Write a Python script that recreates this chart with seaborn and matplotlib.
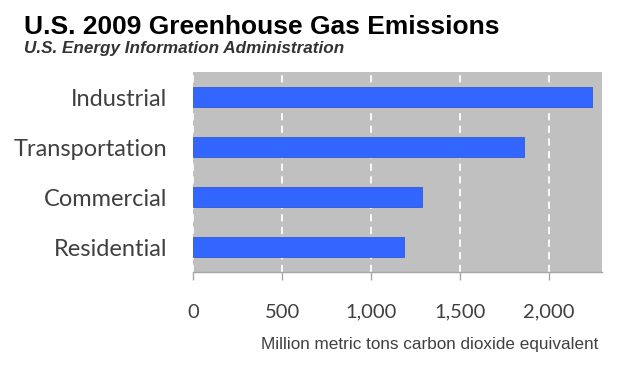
import matplotlib
matplotlib.use("Agg")
import matplotlib.pyplot as plt
from matplotlib import font_manager
import pandas as pd
import seaborn as sns

# data
sectors = ["Industrial", "Transportation", "Commercial", "Residential"]
emissions = [2242, 1862, 1288, 1187]
tick_values = [0, 500, 1000, 1500, 2000]
tick_labels = ["0", "500", "1,000", "1,500", "2,000"]

df = pd.DataFrame({"sector": sectors, "emissions": emissions})

sns.set_theme(style="white")
plt.rcParams["font.family"] = ["Lato", "DejaVu Sans"]

# narrow Arial look-alike for the axis title, if it is installed
try:
    font_manager.findfont("Liberation Sans Narrow", fallback_to_default=False)
    label_font, label_size = "Liberation Sans Narrow", 15
except Exception:
    label_font, label_size = "Liberation Sans", 12.3

fig = plt.figure(figsize=(6.4, 3.68), dpi=100)
ax = fig.add_axes([193.3 / 640, 1 - 272 / 368, 408.7 / 640, 200 / 368])
ax.set_facecolor("#C0C0C0")

sns.barplot(data=df, x="emissions", y="sector", orient="h", color="#3366FF",
            width=0.41, edgecolor="#2E59D9", linewidth=0.6, saturation=1, ax=ax)

ax.set_xlim(0, 2300)
ax.set_axisbelow(True)
ax.set_xticks(tick_values)
ax.set_xticklabels(tick_labels)
for v in tick_values:
    ax.axvline(v, color="white", linestyle=(0, (4, 3)), linewidth=1.3, zorder=0.5)

for side in ["top", "right", "left"]:
    ax.spines[side].set_visible(False)
ax.spines["bottom"].set_color("#A6A6A6")
ax.spines["bottom"].set_linewidth(1)

ax.tick_params(axis="x", bottom=True, direction="out", length=5.8, width=1,
               color="#A6A6A6", pad=17, labelsize=14.5, labelcolor="#404040")
ax.tick_params(axis="y", left=False, length=0, pad=19, labelsize=17,
               labelcolor="#404040")
ax.set_ylabel("")

ax.set_xlabel("Million metric tons carbon dioxide equivalent", loc="right",
              fontsize=label_size, family=label_font, color="#404040", va="center")
ax.xaxis.set_label_coords(404.7 / 408.7, -72 / 200)

fig.text(24 / 640, 1 - 34 / 368, "U.S. 2009 Greenhouse Gas Emissions",
         family="Liberation Sans", fontsize=19, fontweight="bold", color="black",
         va="baseline", ha="left")
fig.text(24 / 640, 1 - 53 / 368, "U.S. Energy Information Administration",
         family="Liberation Sans", fontsize=12.3, fontweight="bold", style="italic",
         color="#333333", va="baseline", ha="left")

fig.savefig("out.png", dpi=100)
